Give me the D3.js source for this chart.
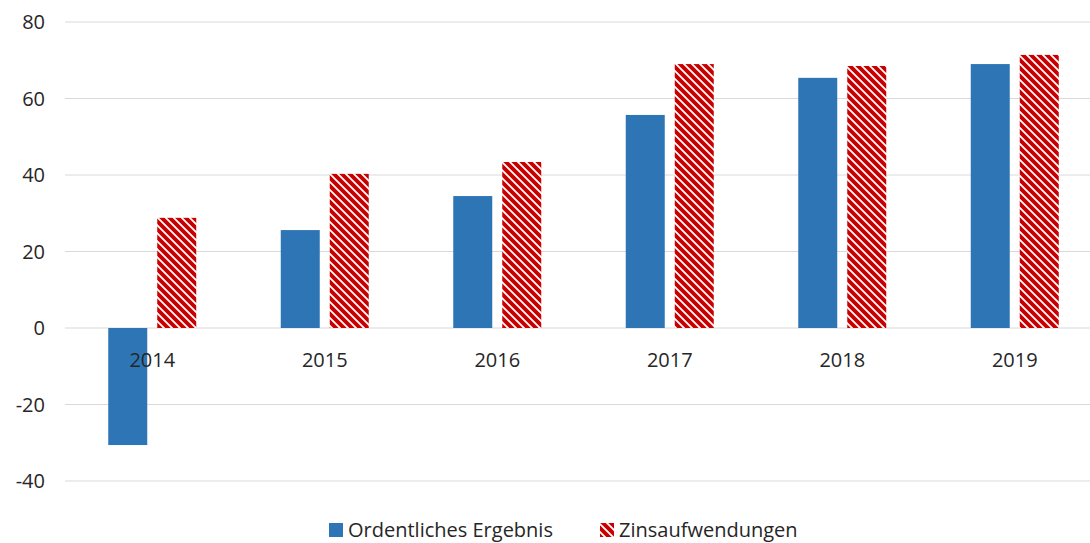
<!DOCTYPE html>
<html><head><meta charset="utf-8">
<script src="https://cdn.jsdelivr.net/npm/d3@7"></script>
<style>body{margin:0;background:#fff;} text{font-family:"Open Sans","Liberation Sans",sans-serif;fill:#262626;}</style>
</head><body>
<svg id="c" width="1090" height="543"></svg>
<script>
const categories = ["2014","2015","2016","2017","2018","2019"];
const ordentlichesErgebnis = [-30.6, 25.6, 34.5, 55.7, 65.4, 69.0];
const zinsaufwendungen = [28.8, 40.3, 43.4, 69.0, 68.5, 71.4];
const yTicks = [-40,-20,0,20,40,60,80];
const seriesNames = ["Ordentliches Ergebnis","Zinsaufwendungen"];

const svg = d3.select("#c");
const defs = svg.append("defs");
const pat = defs.append("pattern").attr("id","hatch").attr("patternUnits","userSpaceOnUse")
  .attr("width",8).attr("height",8);
pat.append("rect").attr("width",8).attr("height",8).attr("fill","#fff");
pat.append("path").attr("d","M-2,-2 L10,10 M-2,6 L2,10 M6,-2 L10,2").attr("stroke","#C80000").attr("stroke-width",3.9);

const x = d3.scaleBand().domain(categories).range([66,1101]);
const y = d3.scaleLinear().domain([-40,80]).range([481,22]);

// grid
svg.append("g").selectAll("line").data(yTicks).join("line")
  .attr("x1",65).attr("x2",1090).attr("y1",d=>y(d)).attr("y2",d=>y(d))
  .attr("stroke","#d9d9d9").attr("stroke-width",1.2);

// y labels
svg.append("g").selectAll("text").data(yTicks).join("text")
  .attr("x",45).attr("y",d=>y(d)).attr("dy","0.35em").attr("text-anchor","end")
  .style("font-size","20px").text(d=>d);

const bw = 39, gap = 10;
const g = svg.append("g");
g.selectAll(".b").data(categories).join("rect")
  .attr("x",d=>x(d)+x.bandwidth()/2-gap/2-bw)
  .attr("y",(d,i)=>y(Math.max(0,ordentlichesErgebnis[i])))
  .attr("width",bw)
  .attr("height",(d,i)=>Math.abs(y(ordentlichesErgebnis[i])-y(0)))
  .attr("fill","#2E75B6");
g.selectAll(".r").data(categories).join("rect")
  .attr("x",d=>x(d)+x.bandwidth()/2+gap/2)
  .attr("y",(d,i)=>y(Math.max(0,zinsaufwendungen[i])))
  .attr("width",bw)
  .attr("height",(d,i)=>Math.abs(y(zinsaufwendungen[i])-y(0)))
  .attr("fill","url(#hatch)");

// category labels
svg.append("g").selectAll("text").data(categories).join("text")
  .attr("x",d=>x(d)+x.bandwidth()/2).attr("y",367).attr("text-anchor","middle")
  .style("font-size","20px").text(d=>d);

// legend
const lg = svg.append("g");
lg.append("rect").attr("x",329).attr("y",523).attr("width",14).attr("height",14).attr("fill","#2E75B6");
lg.append("text").attr("x",348).attr("y",537).style("font-size","20px").text(seriesNames[0]);
lg.append("rect").attr("x",600).attr("y",523).attr("width",14).attr("height",14).attr("fill","url(#hatch)");
lg.append("text").attr("x",619).attr("y",537).style("font-size","20px").text(seriesNames[1]);
</script>
</body></html>
